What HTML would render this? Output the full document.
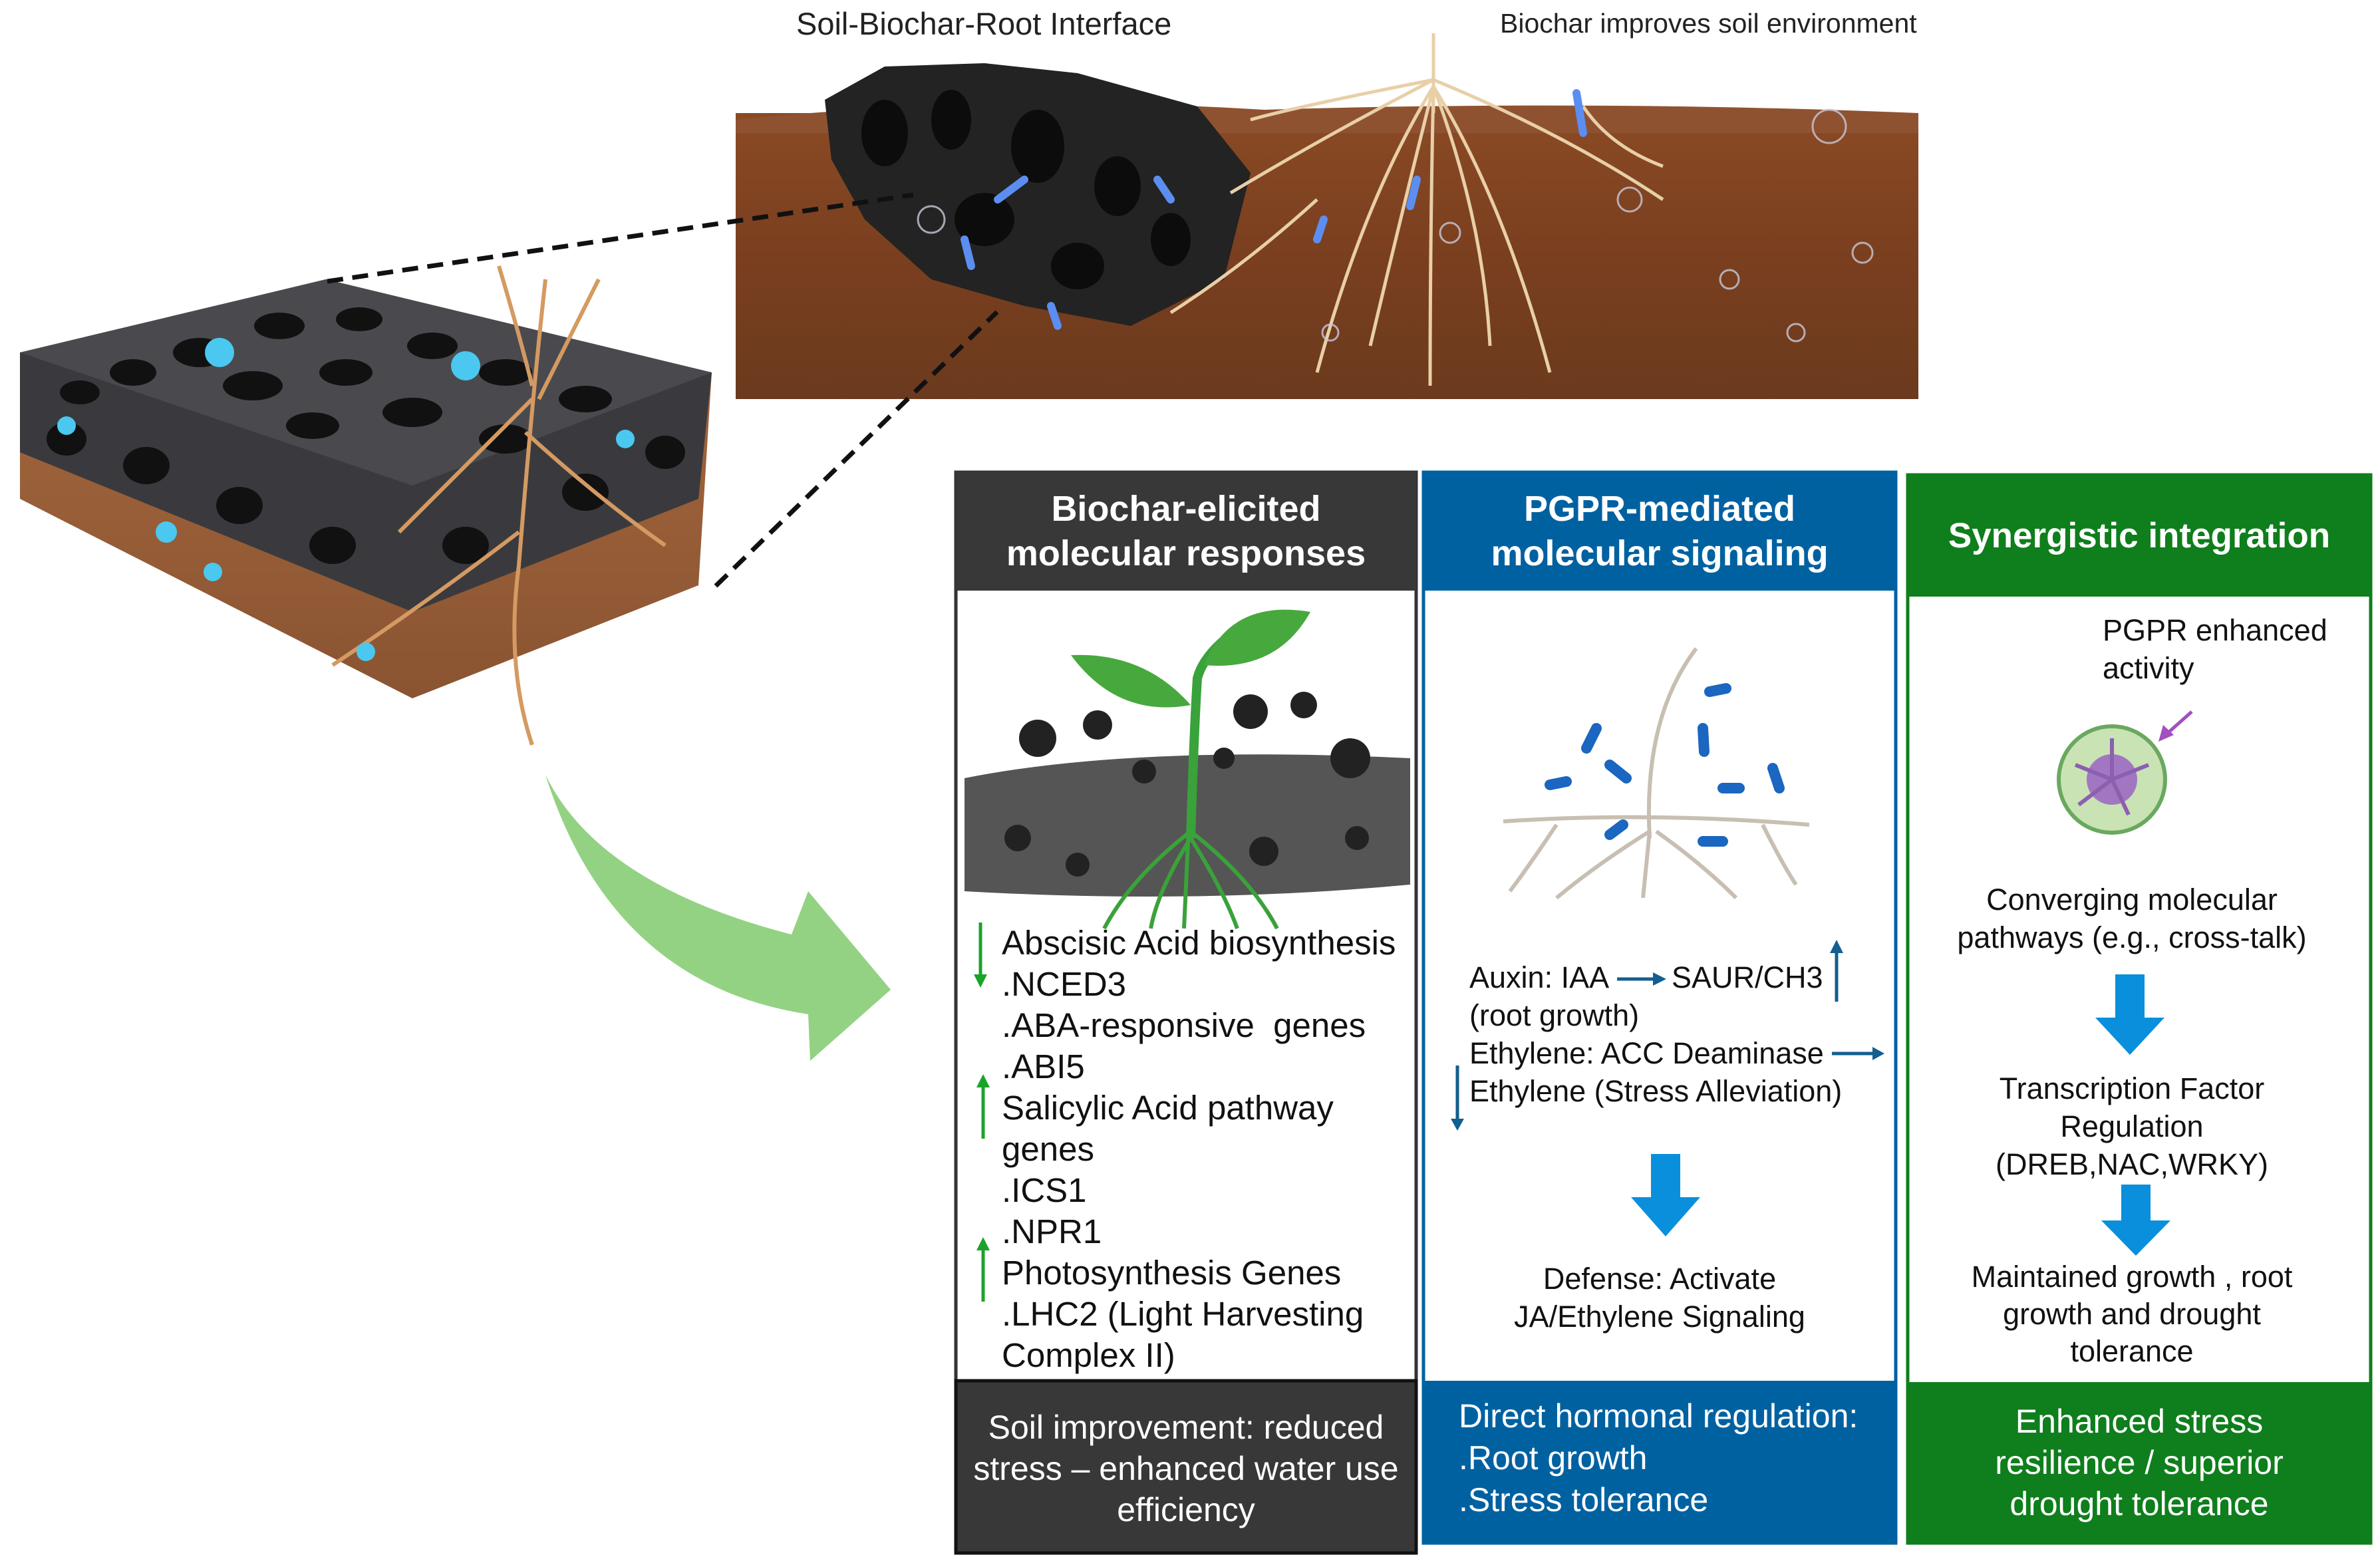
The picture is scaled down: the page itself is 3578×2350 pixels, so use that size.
<!DOCTYPE html>
<html><head><meta charset="utf-8"><style>
html,body{margin:0;padding:0;background:#fff}
body{width:3578px;height:2350px;position:relative;overflow:hidden;font-family:"Liberation Sans","DejaVu Sans",sans-serif}
.t{position:absolute;white-space:nowrap;line-height:1}
.hd{position:absolute;color:#fff;font-weight:bold;font-size:54px;text-align:center;display:flex;align-items:center;justify-content:center;line-height:1.24}
</style></head><body>
<svg width="3578" height="2350" style="position:absolute;left:0;top:0">
<defs>
<linearGradient id="soil" x1="0" y1="0" x2="0" y2="1"><stop offset="0" stop-color="#8a4a24"/><stop offset="0.5" stop-color="#7a3f1f"/><stop offset="1" stop-color="#6b3a1e"/></linearGradient>
<linearGradient id="bb" x1="0" y1="0" x2="0" y2="1"><stop offset="0" stop-color="#a86a3e"/><stop offset="1" stop-color="#8a5432"/></linearGradient>
</defs>
<rect x="1106" y="170" width="1778" height="430" fill="url(#soil)"/>
<path d="M1106 180 Q1500 140 1900 165 Q2400 150 2884 170 L2884 200 L1106 200Z" fill="#8f5230"/>
<path d="M1240 150 L1330 100 L1480 95 L1620 110 L1800 160 L1880 260 L1840 420 L1700 490 L1540 460 L1400 420 L1300 330 L1250 240Z" fill="#232323"/>
<g fill="#0c0c0c"><ellipse cx="1330" cy="200" rx="35" ry="50"/><ellipse cx="1430" cy="180" rx="30" ry="45"/><ellipse cx="1560" cy="220" rx="40" ry="55"/><ellipse cx="1680" cy="280" rx="35" ry="45"/><ellipse cx="1480" cy="330" rx="45" ry="40"/><ellipse cx="1620" cy="400" rx="40" ry="35"/><ellipse cx="1760" cy="360" rx="30" ry="40"/></g>
<g stroke="#e8cfa8" stroke-width="5" fill="none">
<path d="M2155 50 L2155 170"/><path d="M2155 120 Q2000 200 1850 290"/><path d="M2155 130 Q2050 300 1980 560"/><path d="M2155 130 Q2150 350 2150 580"/><path d="M2155 130 Q2260 300 2330 560"/><path d="M2155 120 Q2350 200 2500 300"/><path d="M2155 120 Q1950 160 1880 180"/><path d="M2155 130 Q2100 350 2060 520"/><path d="M2155 130 Q2230 330 2240 520"/><path d="M2380 160 Q2420 220 2500 250"/><path d="M1980 300 Q1870 400 1760 470"/></g>
<g fill="none" stroke="#c8c8d8" stroke-width="3" opacity="0.8"><circle cx="2180" cy="350" r="15"/><circle cx="2450" cy="300" r="18"/><circle cx="2750" cy="190" r="25"/><circle cx="2600" cy="420" r="14"/><circle cx="1400" cy="330" r="20"/><circle cx="2800" cy="380" r="15"/><circle cx="2000" cy="500" r="12"/><circle cx="2700" cy="500" r="13"/></g>
<g stroke="#5b8ef0" stroke-width="12" stroke-linecap="round"><line x1="1500" y1="300" x2="1540" y2="270"/><line x1="1740" y1="270" x2="1760" y2="300"/><line x1="1450" y1="360" x2="1460" y2="400"/><line x1="1580" y1="460" x2="1590" y2="490"/><line x1="2370" y1="140" x2="2380" y2="200"/><line x1="2130" y1="270" x2="2120" y2="310"/><line x1="1990" y1="330" x2="1980" y2="360"/></g>
<path d="M30 530 L490 420 L1070 560 L1050 880 L620 1050 L30 750Z" fill="url(#bb)"/>
<path d="M30 530 L490 420 L1070 560 L1050 750 L620 920 L30 680Z" fill="#3a3a3e"/>
<path d="M30 530 L490 420 L1070 560 L620 730Z" fill="#4a4a4e"/>
<g fill="#111">
<ellipse cx="300" cy="530" rx="40" ry="22"/><ellipse cx="420" cy="490" rx="38" ry="20"/><ellipse cx="540" cy="480" rx="35" ry="18"/><ellipse cx="200" cy="560" rx="35" ry="20"/><ellipse cx="380" cy="580" rx="45" ry="22"/><ellipse cx="520" cy="560" rx="40" ry="20"/><ellipse cx="650" cy="520" rx="38" ry="20"/><ellipse cx="760" cy="560" rx="40" ry="20"/><ellipse cx="620" cy="620" rx="45" ry="22"/><ellipse cx="470" cy="640" rx="40" ry="20"/><ellipse cx="880" cy="600" rx="40" ry="20"/><ellipse cx="760" cy="660" rx="40" ry="22"/><ellipse cx="120" cy="590" rx="30" ry="18"/><ellipse cx="100" cy="660" rx="30" ry="25"/><ellipse cx="220" cy="700" rx="35" ry="28"/><ellipse cx="360" cy="760" rx="35" ry="28"/><ellipse cx="500" cy="820" rx="35" ry="28"/><ellipse cx="700" cy="820" rx="35" ry="28"/><ellipse cx="880" cy="740" rx="35" ry="28"/><ellipse cx="1000" cy="680" rx="30" ry="25"/></g>
<g stroke="#d49a62" stroke-width="6" fill="none"><path d="M820 420 Q800 600 780 850 Q760 1000 800 1120"/><path d="M800 600 Q700 700 600 800"/><path d="M790 650 Q900 750 1000 820"/><path d="M780 800 Q650 900 500 1000"/><path d="M900 420 Q850 520 810 600"/><path d="M750 400 Q780 500 800 580"/></g>
<g fill="#4ac8f0"><circle cx="330" cy="530" r="22"/><circle cx="700" cy="550" r="22"/><circle cx="250" cy="800" r="16"/><circle cx="550" cy="980" r="14"/><circle cx="100" cy="640" r="14"/><circle cx="940" cy="660" r="14"/><circle cx="320" cy="860" r="14"/></g>
<g stroke="#111" stroke-width="7" stroke-dasharray="24,14"><line x1="492" y1="423" x2="1373" y2="293"/><line x1="1076" y1="881" x2="1499" y2="469"/></g>
<path d="M820 1165 Q900 1330 1190 1405 L1215 1340 L1339 1488 L1218 1595 L1215 1525 Q920 1480 820 1165Z" fill="#93d283"/>
<rect x="1437" y="710" width="692" height="1625" fill="#fff" stroke="#333" stroke-width="5"/>
<rect x="2140" y="710" width="710" height="1610" fill="#fff" stroke="#0061a1" stroke-width="5"/>
<rect x="2868" y="714" width="696" height="1606" fill="#fff" stroke="#0f7e1c" stroke-width="5"/>
<rect x="1437" y="710" width="692" height="178" fill="#383838"/>
<rect x="1437" y="2076" width="692" height="259" fill="#383838" stroke="#111" stroke-width="5"/>
<rect x="2140" y="710" width="710" height="178" fill="#0061a1"/>
<rect x="2140" y="2076" width="710" height="244" fill="#0061a1"/>
<rect x="2868" y="714" width="696" height="183" fill="#0f7e1c"/>
<rect x="2868" y="2078" width="696" height="242" fill="#0f7e1c"/>
<path d="M1450 1170 Q1700 1120 2120 1140 L2120 1330 Q1800 1360 1450 1340Z" fill="#555"/>
<g fill="#222"><circle cx="1530" cy="1260" r="20"/><circle cx="1620" cy="1300" r="18"/><circle cx="1900" cy="1280" r="22"/><circle cx="2040" cy="1260" r="18"/><circle cx="1560" cy="1110" r="28"/><circle cx="1650" cy="1090" r="22"/><circle cx="1880" cy="1070" r="26"/><circle cx="1960" cy="1060" r="20"/><circle cx="2030" cy="1140" r="30"/><circle cx="1720" cy="1160" r="18"/><circle cx="1840" cy="1140" r="16"/></g>
<g stroke="#3aa23a" stroke-width="6" fill="none"><path d="M1790 1180 L1780 1396"/><path d="M1790 1250 Q1700 1320 1660 1396"/><path d="M1790 1250 Q1880 1320 1920 1396"/><path d="M1790 1260 Q1740 1340 1730 1396"/><path d="M1790 1260 Q1840 1340 1860 1396"/></g>
<path d="M1790 1260 Q1795 1100 1800 1020 Q1810 980 1870 940" stroke="#3aa23a" stroke-width="14" fill="none"/>
<path d="M1790 1060 Q1720 980 1610 985 Q1680 1080 1790 1060Z" fill="#47a83e"/>
<path d="M1810 1000 Q1850 900 1970 920 Q1920 1010 1810 1000Z" fill="#47a83e"/>
<g stroke="#c8bfb3" stroke-width="6" fill="none"><path d="M2550 975 Q2470 1080 2480 1260"/><path d="M2260 1235 Q2480 1220 2720 1240"/><path d="M2480 1250 Q2400 1300 2340 1350"/><path d="M2490 1250 Q2560 1300 2610 1350"/><path d="M2480 1250 L2470 1350"/><path d="M2340 1240 Q2300 1300 2270 1340"/><path d="M2650 1240 Q2680 1300 2700 1330"/></g>
<g stroke="#1a66c0" stroke-width="16" stroke-linecap="round"><line x1="2400" y1="1095" x2="2385" y2="1125"/><line x1="2570" y1="1040" x2="2595" y2="1035"/><line x1="2560" y1="1095" x2="2562" y2="1130"/><line x1="2420" y1="1150" x2="2445" y2="1170"/><line x1="2330" y1="1180" x2="2355" y2="1175"/><line x1="2590" y1="1185" x2="2615" y2="1185"/><line x1="2665" y1="1155" x2="2675" y2="1185"/><line x1="2420" y1="1255" x2="2440" y2="1240"/><line x1="2560" y1="1265" x2="2590" y2="1265"/></g>
<circle cx="3175" cy="1172" r="80" fill="#c9e3b4" stroke="#6aa860" stroke-width="6"/>
<circle cx="3175" cy="1172" r="38" fill="#a277c2"/>
<g stroke="#8c5fb0" stroke-width="6"><line x1="3175" y1="1172" x2="3175" y2="1110"/><line x1="3175" y1="1172" x2="3230" y2="1150"/><line x1="3175" y1="1172" x2="3125" y2="1210"/><line x1="3175" y1="1172" x2="3200" y2="1225"/><line x1="3175" y1="1172" x2="3120" y2="1150"/></g>
<path d="M3295 1070 L3250 1110" stroke="#a24fc0" stroke-width="5"/><path d="M3245 1115 L3252 1090 L3268 1105Z" fill="#a24fc0"/>
<g stroke="#1aa32a" stroke-width="5"><line x1="1474" y1="1387" x2="1474" y2="1470"/><line x1="1478" y1="1630" x2="1478" y2="1712"/><line x1="1478" y1="1875" x2="1478" y2="1957"/></g>
<g fill="#1aa32a"><path d="M1464 1465 L1484 1465 L1474 1485Z"/><path d="M1468 1635 L1488 1635 L1478 1615Z"/><path d="M1468 1880 L1488 1880 L1478 1860Z"/></g>
<g stroke="#135f8f" stroke-width="5"><line x1="2431" y1="1472" x2="2490" y2="1472"/><line x1="2761" y1="1430" x2="2761" y2="1506"/><line x1="2754" y1="1584" x2="2818" y2="1584"/><line x1="2191" y1="1602" x2="2191" y2="1685"/></g>
<g fill="#135f8f"><path d="M2485 1462 L2505 1472 L2485 1482Z"/><path d="M2751 1433 L2771 1433 L2761 1413Z"/><path d="M2815 1574 L2833 1584 L2815 1594Z"/><path d="M2181 1682 L2201 1682 L2191 1700Z"/></g>
<g fill="#0a8fdc"><path d="M2482 1735 L2526 1735 L2526 1800 L2556 1800 L2504 1859 L2452 1800 L2482 1800Z"/>
<path d="M3180 1465 L3224 1465 L3224 1530 L3254 1530 L3202 1586 L3150 1530 L3180 1530Z"/>
<path d="M3189 1781 L3233 1781 L3233 1835 L3263 1835 L3211 1888 L3159 1835 L3189 1835Z"/></g>
</svg>
<div class="t" style="left:1197px;top:12px;font-size:47px;color:#222">Soil-Biochar-Root Interface</div>
<div class="t" style="left:2255px;top:15px;font-size:41px;color:#222">Biochar improves soil environment</div>
<div class="hd" style="left:1437px;top:710px;width:692px;height:178px">Biochar-elicited<br>molecular responses</div>
<div class="hd" style="left:2140px;top:710px;width:710px;height:178px">PGPR-mediated<br>molecular signaling</div>
<div class="hd" style="left:2868px;top:714px;width:696px;height:183px;font-size:53px">Synergistic integration</div>
<div class="t" style="left:1506px;top:1387px;font-size:51px;line-height:62px;color:#111">Abscisic Acid biosynthesis<br>.NCED3<br>.ABA-responsive&nbsp; genes<br>.ABI5<br>Salicylic Acid pathway<br>genes<br>.ICS1<br>.NPR1<br>Photosynthesis Genes<br>.LHC2 (Light Harvesting<br>Complex II)</div>
<div class="t" style="left:2209px;top:1441px;font-size:45px;line-height:57px;color:#111">Auxin: IAA<br>(root growth)<br>Ethylene: ACC Deaminase<br>Ethylene (Stress Alleviation)</div>
<div class="t" style="left:2513px;top:1441px;font-size:45px;line-height:57px;color:#111">SAUR/CH3</div>
<div class="t" style="left:2200px;top:1894px;width:590px;text-align:center;font-size:45px;line-height:57px;color:#111">Defense: Activate<br>JA/Ethylene Signaling</div>
<div class="t" style="left:3161px;top:919px;font-size:45px;line-height:57px;color:#111">PGPR enhanced<br>activity</div>
<div class="t" style="left:2870px;top:1324px;width:670px;text-align:center;font-size:45px;line-height:57px;color:#111">Converging molecular<br>pathways (e.g., cross-talk)</div>
<div class="t" style="left:2870px;top:1608px;width:670px;text-align:center;font-size:45px;line-height:57px;color:#111">Transcription Factor<br>Regulation<br>(DREB,NAC,WRKY)</div>
<div class="t" style="left:2870px;top:1892px;width:670px;text-align:center;font-size:45px;line-height:56px;color:#111">Maintained growth , root<br>growth and drought<br>tolerance</div>
<div class="t" style="left:1437px;top:2115px;width:692px;text-align:center;font-size:50px;line-height:62px;color:#fff">Soil improvement: reduced<br>stress – enhanced water use<br>efficiency</div>
<div class="t" style="left:2193px;top:2098px;font-size:50px;line-height:63px;color:#fff">Direct hormonal regulation:<br>.Root growth<br>.Stress tolerance</div>
<div class="t" style="left:2868px;top:2106px;width:696px;text-align:center;font-size:50px;line-height:62px;color:#fff">Enhanced stress<br>resilience / superior<br>drought tolerance</div>
</body></html>
